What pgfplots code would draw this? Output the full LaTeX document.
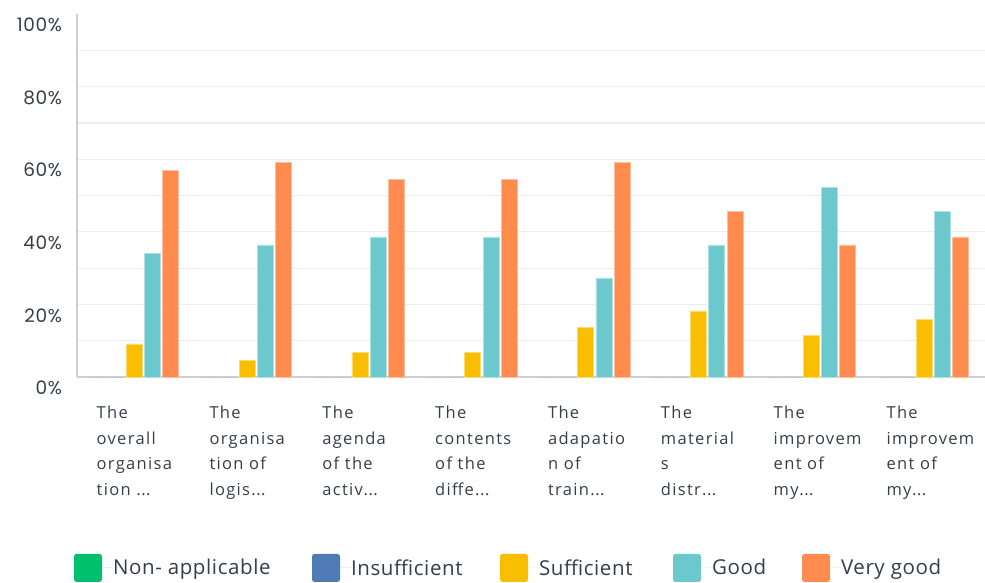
\documentclass[border=0pt]{standalone}
\usepackage{pgfplots}
\pgfplotsset{compat=1.18}
\usepackage{fontspec}
\setmainfont{Open Sans}
\newfontfamily\labelfont[LetterSpace=8]{Open Sans}
\newfontfamily\legfont[LetterSpace=3]{Open Sans}
\newfontfamily\poppins[LetterSpace=3]{Poppins}
\definecolor{cNA}{HTML}{00BF6F}
\definecolor{cIns}{HTML}{507CB6}
\definecolor{cSuf}{HTML}{F9BE00}
\definecolor{cGood}{HTML}{6BC8CD}
\definecolor{cVG}{HTML}{FF8B4F}
\definecolor{txt}{HTML}{333E48}
\definecolor{gridc}{HTML}{EDEDED}
\definecolor{axc}{HTML}{CFCFCF}
\newcommand{\dd}{.\kern0.5pt.\kern0.5pt.}
\begin{document}
\begin{tikzpicture}
\begin{axis}[
  at={(77pt,-377pt)}, anchor=south west,
  scale only axis, width=908pt, height=363pt,
  xmin=-0.507, xmax=7.54, ymin=0, ymax=100,
  ybar=2.3pt, bar width=16pt,
  legend image code/.code={\fill[#1, draw=none, rounded corners=2.5pt] (0pt,-14pt) rectangle (28pt,14pt); \path[draw=none] (0pt,0pt) -- (39pt,0pt);},
  axis x line*=bottom, axis y line*=left,
  axis line style={axc, line width=1.5pt, -},
  major tick length=0pt, minor tick length=0pt,
  xtick={0,1,2,3,4,5,6,7},
  xticklabels={
    {The\\overall\\organisa\\tion \dd},
    {The\\organisa\\tion of\\logis\dd},
    {The\\agenda\\of the\\activ\dd},
    {The\\contents\\of the\\diffe\dd},
    {The\\adapatio\\n of\\train\dd},
    {The\\material\\s\\distr\dd},
    {The\\improvem\\ent of\\my\dd},
    {The\\improvem\\ent of\\my\dd}},
  xticklabel style={align=left, anchor=north west, inner sep=0pt, xshift=-37.7pt, yshift=-29pt,
    font=\labelfont\fontsize{16.5}{25.5}\selectfont, text=txt},
  ytick={0,20,40,60,80,100},
  yticklabels={0\%,20\%,40\%,60\%,80\%,100\%},
  yticklabel style={font=\poppins\fontsize{18.5}{20}\selectfont, text=txt, anchor=east, inner sep=0pt, xshift=-15pt, yshift=-11pt},
  minor ytick={10,20,30,40,50,60,70,80,90},
  yminorgrids=true, ymajorgrids=false,
  minor grid style={gridc, line width=1.2pt},
  legend columns=5,
  legend style={draw=none, fill=none, inner sep=0pt, outer sep=0pt,
    at={(-0.0033,-0.526)}, anchor=west,
    column sep=0pt,
    nodes={inner sep=0pt, text=txt, font=\legfont\fontsize{20.5}{24}\selectfont}},
]
\addplot[fill=cNA, draw=none] coordinates {(0,0) (1,0) (2,0) (3,0) (4,0) (5,0) (6,0) (7,0)};
\addlegendentry{\makebox[199pt][l]{Non- applicable}}
\addplot[fill=cIns, draw=none] coordinates {(0,0) (1,0) (2,0) (3,0) (4,0) (5,0) (6,0) (7,0)};
\addlegendentry{\makebox[149pt][l]{Insufficient}}
\addplot[fill=cSuf, draw=cSuf!55!white, line width=0.7pt] coordinates {(0,9.1) (1,4.5) (2,6.8) (3,6.8) (4,13.6) (5,18.2) (6,11.4) (7,15.9)};
\addlegendentry{\makebox[134pt][l]{Sufficient}}
\addplot[fill=cGood, draw=cGood!55!white, line width=0.7pt] coordinates {(0,34.1) (1,36.4) (2,38.6) (3,38.6) (4,27.3) (5,36.4) (6,52.3) (7,45.5)};
\addlegendentry{\makebox[90pt][l]{Good}}
\addplot[fill=cVG, draw=cVG!55!white, line width=0.7pt] coordinates {(0,56.8) (1,59.1) (2,54.5) (3,54.5) (4,59.1) (5,45.5) (6,36.4) (7,38.6)};
\addlegendentry{Very good}
\end{axis}
\pgfresetboundingbox
\path[use as bounding box] (0pt,0pt) rectangle (985pt,-582pt);
\end{tikzpicture}
\end{document}
